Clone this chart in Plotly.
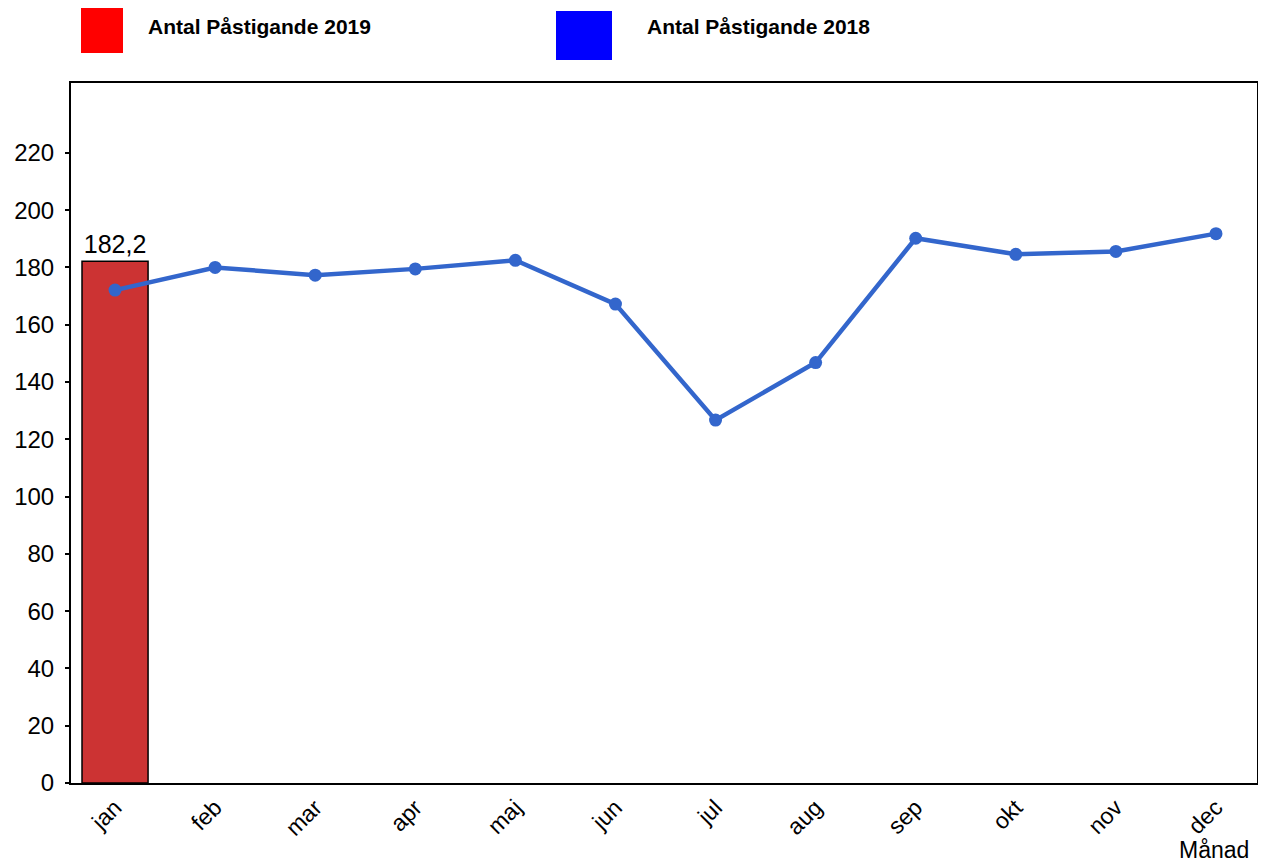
import plotly.graph_objects as go

months = ["jan", "feb", "mar", "apr", "maj", "jun", "jul", "aug", "sep", "okt", "nov", "dec"]
values_2019 = [182.2]
values_2018 = [172.1, 180.0, 177.3, 179.5, 182.5, 167.2, 126.7, 146.8, 190.2, 184.6, 185.6, 191.8]
bar_labels = ["182,2"]
y_ticks = list(range(0, 221, 20))

W, H = 1266, 863
OFF = 8  # default page body margin
L, R, T, B = 71, 9, 83, 80
PW, PH = W - L - R, H - T - B

def px(x):
    return (x - L) / PW

def py(y):
    return (H - B - y) / PH

FONT = "Liberation Sans, Arial"

fig = go.Figure()
fig.add_trace(go.Bar(
    x=months[:len(values_2019)], y=values_2019, width=0.66,
    marker=dict(color="#CC3333", line=dict(color="black", width=1.5)),
    text=bar_labels, textposition="outside", cliponaxis=False,
    textfont=dict(size=25, color="black", family=FONT),
    name="Antal Påstigande 2019", showlegend=False,
))
fig.add_trace(go.Scatter(
    x=months, y=values_2018, mode="lines+markers",
    line=dict(color="#3366CC", width=4.5),
    marker=dict(color="#3366CC", size=13),
    name="Antal Påstigande 2018", showlegend=False,
))

# custom legend
fig.add_shape(type="rect", xref="paper", yref="paper",
              x0=px(81), x1=px(123), y0=py(53), y1=py(8),
              fillcolor="#FF0000", line=dict(width=0))
fig.add_shape(type="rect", xref="paper", yref="paper",
              x0=px(556), x1=px(612), y0=py(60), y1=py(11),
              fillcolor="#0000FF", line=dict(width=0))
fig.add_annotation(xref="paper", yref="paper", x=px(146), y=py(26),
                   xanchor="left", yanchor="middle", showarrow=False,
                   text="<b>Antal Påstigande 2019</b>",
                   font=dict(size=21, color="black", family=FONT))
fig.add_annotation(xref="paper", yref="paper", x=px(645), y=py(26),
                   xanchor="left", yanchor="middle", showarrow=False,
                   text="<b>Antal Påstigande 2018</b>",
                   font=dict(size=21, color="black", family=FONT))
fig.add_annotation(xref="paper", yref="paper", x=px(1251), y=py(850),
                   xanchor="right", yanchor="middle", showarrow=False,
                   text="Månad",
                   font=dict(size=23, color="black", family=FONT))

fig.update_layout(
    width=W - OFF, height=H - OFF,
    margin=dict(l=L - OFF, r=R, t=T - OFF, b=B, autoexpand=False),
    plot_bgcolor="white", paper_bgcolor="white",
    font=dict(family=FONT, color="black"),
    showlegend=False,
)
fig.update_xaxes(
    type="category", categoryorder="array", categoryarray=months,
    range=[-0.44, 11.41], showgrid=False,
    showline=True, linecolor="black", linewidth=2, mirror=True,
    tickangle=-45, tickfont=dict(size=23), ticks="",
)
fig.update_yaxes(
    range=[0, 244.4], tickvals=y_ticks, showgrid=False, zeroline=False,
    showline=True, linecolor="black", linewidth=2, mirror=True,
    ticks="outside", ticklen=4, tickwidth=2, tickcolor="black",
    tickfont=dict(size=24), ticklabelstandoff=6,
)

fig.write_html("out.html")
